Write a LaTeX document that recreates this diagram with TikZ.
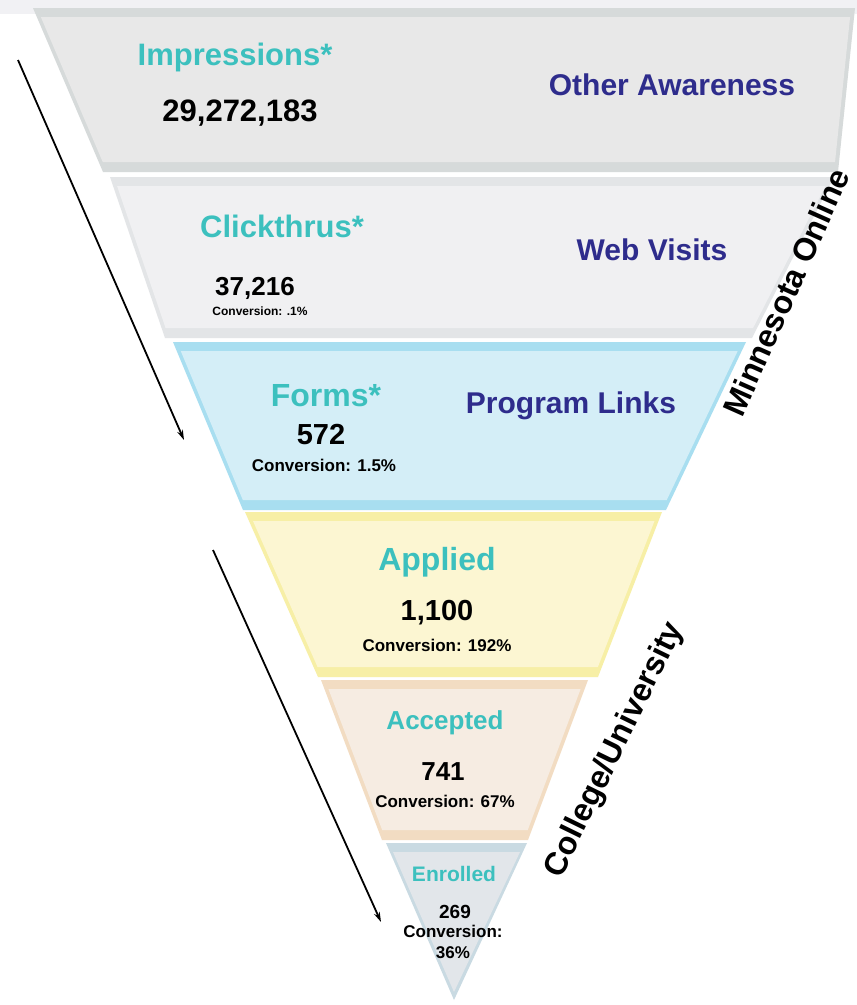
\documentclass[tikz,border=0pt]{standalone}
\usepackage{fontspec}
\setmainfont{Liberation Sans}
\usetikzlibrary{arrows.meta}
\definecolor{tealtxt}{HTML}{3CC0BE}
\definecolor{navytxt}{HTML}{2E2C8C}
\definecolor{grylip}{HTML}{D6DADA}
\definecolor{gryfill}{HTML}{E8E8E8}
\definecolor{palelip}{HTML}{E3E5E7}
\definecolor{palefill}{HTML}{F0F0F2}
\definecolor{bluelip}{HTML}{A8DEF0}
\definecolor{bluefill}{HTML}{D4EEF7}
\definecolor{yellip}{HTML}{F7EFA6}
\definecolor{yelfill}{HTML}{FCF6D2}
\definecolor{peachlip}{HTML}{F2DCC2}
\definecolor{peachfill}{HTML}{F6ECE2}
\definecolor{slatelip}{HTML}{C9DAE2}
\definecolor{slatefill}{HTML}{E2E6EA}
\definecolor{topstrip}{HTML}{F1F1F4}
% one stage of the funnel: #1 top y, #2 bottom y, #3 top-left x, #4 top-right x,
% #5 bottom-right x, #6 bottom-left x, #7 rim colour, #8 face colour
\newcommand\funnelband[8]{%
  \fill[#7] (#3,#1) -- (#4,#1) -- (#5,#2) -- (#6,#2) -- cycle;
  \pgfmathsetmacro\fbt{#1+9}%
  \pgfmathsetmacro\fbb{#2-10}%
  \pgfmathsetmacro\fbtl{#3+(#6-#3)*9/(#2-#1)+4}%
  \pgfmathsetmacro\fbtr{#4+(#5-#4)*9/(#2-#1)-4}%
  \pgfmathsetmacro\fbbl{#6-(#6-#3)*10/(#2-#1)+4}%
  \pgfmathsetmacro\fbbr{#5-(#5-#4)*10/(#2-#1)-4}%
  \fill[#8] (\fbtl,\fbt) -- (\fbtr,\fbt) -- (\fbbr,\fbb) -- (\fbbl,\fbb) -- cycle;
}
\tikzset{
  stage/.style={font=\bfseries\fontsize{#1}{#1}\selectfont, text=tealtxt, inner sep=0pt},
  channel/.style={font=\bfseries\fontsize{#1}{#1}\selectfont, text=navytxt, inner sep=0pt},
  count/.style={font=\bfseries\fontsize{#1}{#1}\selectfont, text=black, inner sep=0pt},
  side/.style={font=\bfseries\fontsize{#1}{#1}\selectfont, text=black, inner sep=0pt},
  flow/.style={line width=1.8pt, -{Stealth[length=10pt,width=6pt]}},
}
\begin{document}
\begin{tikzpicture}[x=1pt,y=-1pt]
\useasboundingbox (0,0) rectangle (857,1005);
\fill[white] (0,0) rectangle (857,1005);
\fill[topstrip] (0,0) rectangle (857,14);

% funnel stages, widest at the top
\funnelband{8}{172}{33}{855}{838}{103}{grylip}{gryfill}
\funnelband{177}{338}{110}{834}{752}{165}{palelip}{palefill}
\funnelband{342}{510}{173}{746}{666}{243}{bluelip}{bluefill}
\funnelband{512}{677}{245}{662}{598}{318}{yellip}{yelfill}
\funnelband{680}{840}{321}{588}{528}{382}{peachlip}{peachfill}
% last stage: a triangle down to the tip
\fill[slatelip] (386,843) -- (527,843) -- (454,1000) -- cycle;
\fill[slatefill] (393,852) -- (520,852) -- (454,992) -- cycle;

% stage labels
\node[stage=31] (imp) at (235,57) {Impressions*};
\node[count=31] (impN) at (240,113) {29,272,183};
\node[channel=30] (oth) at (672,85) {Other Awareness};

\node[stage=31] (clk) at (282,226) {Clickthrus*};
\node[count=26] (clkN) at (255,288) {37,216};
\node[count=12] (clkC) at (260,311) {Conversion: .1\%};
\node[channel=30] (web) at (652,250) {Web Visits};

\node[stage=32] (frm) at (326,396) {Forms*};
\node[count=29] (frmN) at (321,435) {572};
\node[count=17] (frmC) at (324,465) {Conversion: 1.5\%};
\node[channel=30] (prg) at (571,406) {Program Links};

\node[stage=32] (app) at (437,562) {Applied};
\node[count=29] (appN) at (437,613) {1,100};
\node[count=17] (appC) at (437,645) {Conversion: 192\%};

\node[stage=26] (acc) at (445,723) {Accepted};
\node[count=26] (accN) at (443,772) {741};
\node[count=17] (accC) at (445,801) {Conversion: 67\%};

\node[stage=21] (enr) at (454,874) {Enrolled};
\node[count=19] (enrN) at (455,912) {269};
\node[count=17] (enrC) at (453,931) {Conversion:};
\node[count=17] (enrP) at (453,953) {36\%};

% who owns each part of the funnel
\node[side=32, rotate=66] (mo) at (786,292) {Minnesota Online};
\node[side=32, rotate=64] (cu) at (615,750) {College/University};

% flow arrows down the left side
\coordinate (a1s) at (18,60);
\coordinate (a1e) at (184,440);
\coordinate (a2s) at (213,550);
\coordinate (a2e) at (381,922);
\draw[flow] (a1s) -- (a1e);
\draw[flow] (a2s) -- (a2e);
\end{tikzpicture}
\end{document}
